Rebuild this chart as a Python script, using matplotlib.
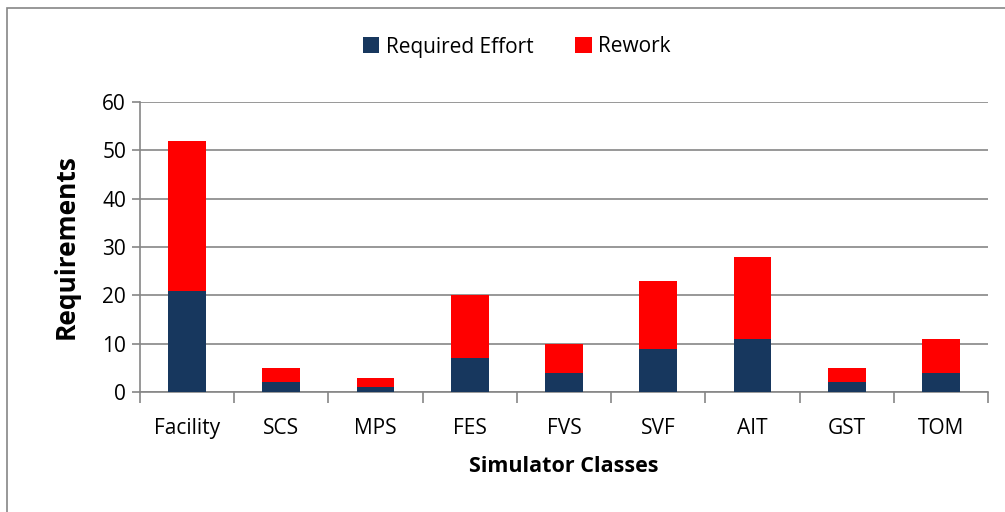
import matplotlib.pyplot as plt
from matplotlib.patches import Rectangle

# Requirements per simulator class
classes = ["Facility", "SCS", "MPS", "FES", "FVS", "SVF", "AIT", "GST", "TOM"]
required = [21, 2, 1, 7, 4, 9, 11, 2, 4]
rework = [31, 3, 2, 13, 6, 14, 17, 3, 7]

plt.rcParams['font.family'] = ['Open Sans', 'DejaVu Sans']

fig = plt.figure(figsize=(10.05, 5.12), dpi=100)
ax = fig.add_axes([140/1005, 1-392/512, 848/1005, 290/512])

# outer chart frame
fig.patches.append(Rectangle((7/1005, -0.05), 1.1, 1-8/512+0.05, transform=fig.transFigure,
	fill=False, edgecolor="#868686", linewidth=1.2))

x = range(len(classes))
ax.bar(x, required, width=0.4, color="#17375E", label="Required Effort", zorder=3)
ax.bar(x, rework, width=0.4, bottom=required, color="#FF0000", label="Rework", zorder=3)

ax.set_xlim(-0.5, len(classes)-0.5)
ax.set_ylim(0, 60)
ax.set_yticks(range(0, 61, 10))
ax.set_xticks(x)
ax.set_xticklabels(classes)
ax.set_xticks([i-0.5 for i in range(len(classes)+1)], minor=True)
ax.tick_params(axis='x', which='major', length=0, labelsize=15, pad=19)
ax.tick_params(axis='x', which='minor', length=8, color="#868686", width=1.2)
ax.tick_params(axis='y', length=6, color="#868686", width=1.2, labelsize=15, pad=4)

ax.grid(axis='y', color="#868686", linewidth=1.2, zorder=0)
for s in ["top", "right"]:
	ax.spines[s].set_visible(False)
for s in ["left", "bottom"]:
	ax.spines[s].set_color("#868686")
	ax.spines[s].set_linewidth(1.2)

ax.set_ylabel("Requirements", fontsize=19, fontweight="bold", labelpad=16)
ax.set_xlabel("Simulator Classes", fontsize=15.5, fontweight="bold", labelpad=12)

fig.legend(loc="center", bbox_to_anchor=(0.514, 1-47/512), ncol=2, frameon=False,
	fontsize=15, handlelength=0.8, handleheight=0.8, handletextpad=0.3, columnspacing=2.0)

fig.savefig("out.png", dpi=100)
